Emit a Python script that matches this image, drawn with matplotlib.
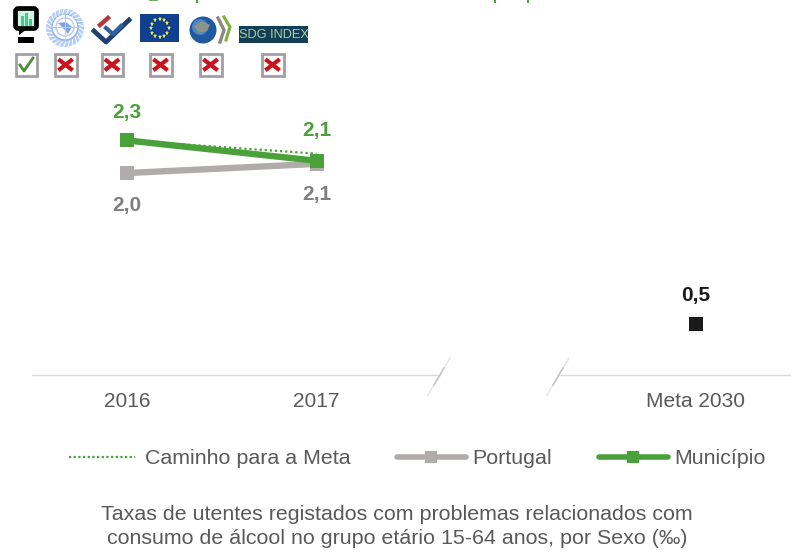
import numpy as np
import matplotlib
matplotlib.use('Agg')
import matplotlib.pyplot as plt
from matplotlib.patches import Rectangle, Circle, Polygon, FancyBboxPatch

plt.rcParams['font.family'] = ['Liberation Sans', 'DejaVu Sans']

W, H = 808, 558

x_pos = [0, 1, 3]
x_labels = ['2016', '2017', 'Meta 2030']
municipio = [2.3, 2.1]
portugal = [1.98, 2.07]
caminho = [2.3, 2.17]
meta = [0.5]
municipio_txt = ['2,3', '2,1']
portugal_txt = ['2,0', '2,1']
meta_txt = ['0,5']
legend_names = ['Caminho para a Meta', 'Portugal', 'Município']
caption = ['Taxas de utentes registados com problemas relacionados com',
           'consumo de álcool no grupo etário 15-64 anos, por Sexo (‰)']
checks = [True, False, False, False, False, False]
check_x = [26, 65.5, 112, 160.5, 210.5, 272.5]

GREEN = '#4aa13a'
GREY = '#b0acac'
TXT = '#595959'


def px(x):
    return x / W


def py(y):
    return 1 - y / H


fig = plt.figure(figsize=(W / 100, H / 100), dpi=100)

# overlay in pixel coordinates, for icons and legend
bg = fig.add_axes([0, 0, 1, 1])
bg.set_xlim(0, W)
bg.set_ylim(H, 0)
bg.axis('off')

# data axes: x 0 -> 127px, 1 -> 317px ; y 0 -> 375px, 102 px per unit
ax = fig.add_axes([px(32), py(375), (790 - 32) / W, (375 - 100) / H])
ax.set_xlim((32 - 127) / 189.5, (790 - 127) / 189.5)
ax.set_ylim(0, 275 / 102)
ax.patch.set_alpha(0)
for s in ['top', 'left', 'right', 'bottom']:
    ax.spines[s].set_visible(False)
ax.set_yticks([])
ax.set_xticks(x_pos)
ax.set_xticklabels(x_labels, fontsize=15, color=TXT)
ax.tick_params(axis='x', length=0, pad=12.5)

ax.plot(x_pos[:2], portugal, color=GREY, lw=4.6, marker='s', ms=10, mew=0, clip_on=False)
ax.plot(x_pos[:2], caminho, color=GREEN, lw=1.6, ls=(0, (1, 1.3)))
ax.plot(x_pos[:2], municipio, color=GREEN, lw=4.6, marker='s', ms=10, mew=0, clip_on=False)
ax.plot(x_pos[2], meta[0], color='#1a1a1a', marker='s', ms=10, mew=0, ls='none')

label_font = dict(fontsize=15, fontweight='bold', ha='center', va='center')
for x, v, t, dy in zip(x_pos, municipio, municipio_txt, [28, 30]):
    ax.annotate(t, (x, v), xytext=(0, dy * 0.72), textcoords='offset points', color=GREEN, **label_font)
for x, v, t, dy in zip(x_pos, portugal, portugal_txt, [-32, -31]):
    ax.annotate(t, (x, v), xytext=(0, dy * 0.72), textcoords='offset points', color='#7f7f7f', **label_font)
ax.annotate(meta_txt[0], (x_pos[2], meta[0]), xytext=(0, 29 * 0.72), textcoords='offset points',
            color='#1a1a1a', **label_font)

# broken axis line, the slashes fade towards their ends
bg.plot([32, 440], [375, 375], color='#dadada', lw=1)
bg.plot([558, 790], [375, 375], color='#dadada', lw=1)
bg.plot([428, 450], [395, 358], color='#e6e6e6', lw=1.1)
bg.plot([547, 569], [395, 358], color='#e6e6e6', lw=1.1)
bg.plot([434, 444], [385, 368], color='#c4c4c4', lw=1.1)
bg.plot([553, 563], [385, 368], color='#c4c4c4', lw=1.1)

# descenders of the heading, which the reference cuts at the top edge
bg.plot([150, 157], [0.4, 0.4], color=GREEN, lw=1.2)
for tx in [197, 495, 528]:
    bg.plot([tx, tx], [0, 1.5], color=GREEN, lw=1.4)

# status boxes under the icons
for cx, ok in zip(check_x, checks):
    bg.add_patch(Rectangle((cx - 10.5, 53.5), 21.5, 22, fc='white', ec='#a0a0a0', lw=2))
    if ok:
        bg.plot([cx - 6, cx - 2, cx + 7], [65, 71, 58], color='#4f8a3c', lw=2)
    else:
        bg.plot([cx - 5.5, cx + 5.5], [60.5, 69], color='#c8141c', lw=3)
        bg.plot([cx - 5.5, cx + 5.5], [69, 60.5], color='#c8141c', lw=3)

# monitor icon
bg.add_patch(FancyBboxPatch((15.5, 8.5), 21, 20, boxstyle='round,pad=0,rounding_size=3',
                            fc='#d4f3e5', ec='black', lw=3.4))
for bx, bh in zip([21, 25, 29], [10, 13, 7]):
    bg.add_patch(Rectangle((bx, 26 - bh), 3, bh, fc='#3ecf8e', ec='none'))
bg.add_patch(Polygon([[19, 29], [27, 29], [19, 35]], fc='black', ec='none'))
bg.add_patch(Rectangle((18, 37), 16, 5.5, fc='black', ec='none'))

# UN emblem
bg.add_patch(Circle((65, 28), 19, fc='#b5cef5', ec='none'))
for a in np.linspace(0, 2 * np.pi, 26)[:-1]:
    bg.plot([65 + 14 * np.cos(a), 65 + 19 * np.cos(a + 0.15)],
            [28 + 14 * np.sin(a), 28 + 19 * np.sin(a + 0.15)], color='white', lw=0.7)
bg.add_patch(Circle((65, 27), 13, fc='white', ec='#8fb2ec', lw=1))
bg.add_patch(Circle((65, 27), 9, fc='none', ec='#b5cef5', lw=1))
bg.add_patch(Polygon([[58, 23], [66, 22], [72, 27], [68, 34], [63, 28]], fc='#7ea3e6', ec='none'))
bg.plot([52, 78], [27, 27], color='#b5cef5', lw=0.7)
bg.plot([65, 65], [14, 40], color='#b5cef5', lw=0.7)

# double tick logo
bg.plot([94, 106, 129], [31, 42, 20], color='#1f3f73', lw=3.4)
bg.plot([106, 113, 121], [28, 34, 26], color='#2f5f9c', lw=3)
bg.plot([100, 108], [25, 18], color='#b23a3f', lw=3.2)

# EU flag
bg.add_patch(Rectangle((140, 14), 39, 28, fc='#10408f', ec='none'))
ang = np.arange(12) * np.pi / 6
bg.plot(159.5 + 9 * np.cos(ang), 28 + 9 * np.sin(ang), ls='none', marker='*', ms=3.6, mew=0, color='#e8e84a')

# OECD globe
bg.add_patch(Circle((203, 30), 13.5, fc='#1f5aa0', ec='none'))
bg.add_patch(Circle((200, 27), 8, fc='#4d86c2', ec='none'))
bg.add_patch(Polygon([[194, 26], [202, 21], [210, 25], [207, 31], [199, 33]], fc='#8a9488', ec='none'))
bg.plot([218, 224, 220], [18, 30, 42], color='#8a8a80', lw=2.4)
bg.plot([224, 230, 226], [17, 27, 40], color='#7fae3c', lw=2.2)

# SDG index
bg.add_patch(Rectangle((239, 26), 69, 17, fc='#123f56', ec='none'))
bg.text(273.5, 34.5, 'SDG INDEX', fontsize=9.2, color='#a9d0a0', ha='center', va='center')

# legend
bg.plot([69, 135], [457, 457], color=GREEN, lw=1.6, ls=(0, (1, 1.1)))
bg.plot([397, 466], [457, 457], color=GREY, lw=4, solid_capstyle='round')
bg.plot([431], [457], color=GREY, marker='s', ms=8, mew=0)
bg.plot([599, 668], [457, 457], color=GREEN, lw=4, solid_capstyle='round')
bg.plot([633], [457], color=GREEN, marker='s', ms=8, mew=0)
for tx, name in zip([145, 472, 674], legend_names):
    bg.text(tx, 458, name, fontsize=15.4, color=TXT, ha='left', va='center')

bg.text(397, 514.5, caption[0], fontsize=15.4, color=TXT, ha='center', va='center')
bg.text(397, 538, caption[1], fontsize=15.4, color=TXT, ha='center', va='center')

fig.savefig('out.png', dpi=100)
